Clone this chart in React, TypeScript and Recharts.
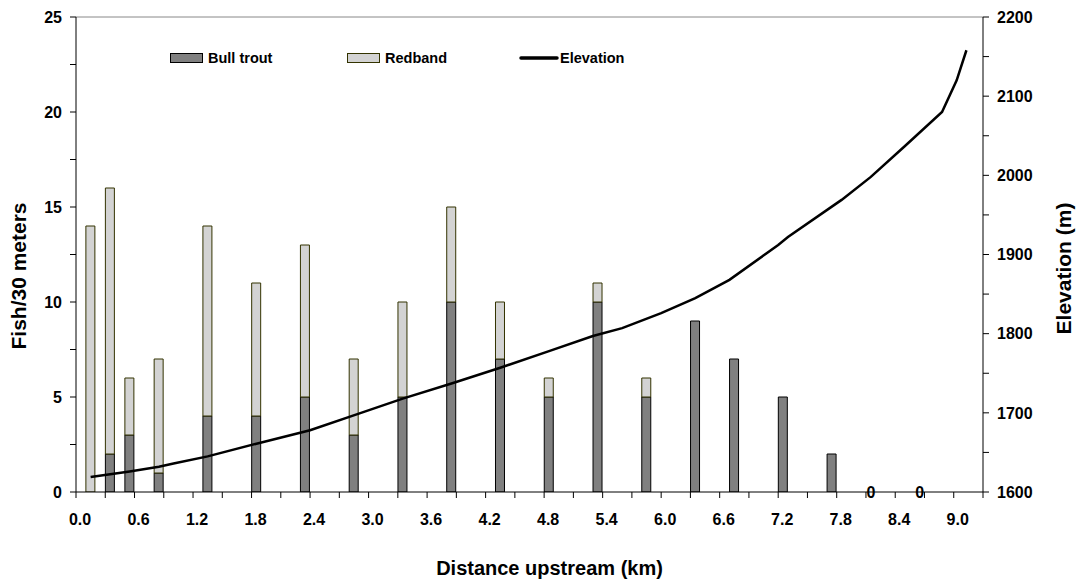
import React from 'react';
import {
  ComposedChart,
  Bar,
  Line,
  XAxis,
  YAxis,
  Legend,
  ReferenceLine,
  Label,
} from 'recharts';

// Sampling sites along the stream (km upstream) and fish counts per 30 m
const siteKm = [0.15, 0.35, 0.55, 0.85, 1.35, 1.85, 2.35, 2.85, 3.35, 3.85, 4.35, 4.85, 5.35, 5.85, 6.35, 6.75, 7.25, 7.75, 8.15, 8.65];
const bullTrout = [0, 2, 3, 1, 4, 4, 5, 3, 5, 10, 7, 5, 10, 5, 9, 7, 5, 2, 0, 0];
const redband = [14, 14, 3, 6, 10, 7, 8, 4, 5, 5, 3, 1, 1, 1, 0, 0, 0, 0, 0, 0];

// Stream profile: distance (km) and elevation (m)
const elevKm = [0.15, 0.55, 0.85, 1.0, 1.35, 1.85, 2.4, 2.9, 3.35, 3.85, 4.35, 4.85, 5.3, 5.6, 6.0, 6.35, 6.7, 7.2, 7.3, 7.85, 8.15, 8.5, 8.88, 9.03, 9.13];
const elevM = [1619, 1626, 1632, 1636, 1645, 1661, 1678, 1699, 1718, 1737, 1757, 1778, 1797, 1807, 1826, 1845, 1868, 1912, 1922, 1969, 1998, 2037, 2080, 2120, 2158];

// Axis ticks (labels shown on every other tick)
const distanceTicks = [0, 0.3, 0.6, 0.9, 1.2, 1.5, 1.8, 2.1, 2.4, 2.7, 3.0, 3.3, 3.6, 3.9, 4.2, 4.5, 4.8, 5.1, 5.4, 5.7, 6.0, 6.3, 6.6, 6.9, 7.2, 7.5, 7.8, 8.1, 8.4, 8.7, 9.0, 9.3];
const fishTicks = [0, 2.5, 5, 7.5, 10, 12.5, 15, 17.5, 20, 22.5, 25];
const elevTicks = [1600, 1650, 1700, 1750, 1800, 1850, 1900, 1950, 2000, 2050, 2100, 2150, 2200];

const seriesNames = ['Bull trout', 'Redband', 'Elevation'];
const xTitle = 'Distance upstream (km)';
const leftTitle = 'Fish/30 meters';
const rightTitle = 'Elevation (m)';

const siteRows = siteKm.map((km, i) => {
  const total = bullTrout[i] + redband[i];
  return {
    km,
    bull: bullTrout[i],
    red: redband[i],
    // sites with no fish get a "0" marker on the axis
    noFish: total === 0 ? 0 : null,
  };
});
const elevRows = elevKm.map((km, i) => ({ km, elev: elevM[i] }));

const FONT = '"Liberation Sans", Arial, Helvetica, sans-serif';
const tickStyle = { fill: '#000', fontSize: 16, fontWeight: 'bold', fontFamily: FONT };

const fmtKm = (v: number) => (Math.round(v * 10) % 6 === 0 ? v.toFixed(1) : '');
const fmtFish = (v: number) => (v % 5 === 0 ? String(v) : '');
const fmtElev = (v: number) => (v % 100 === 0 ? String(v) : '');

const ZeroLabel = (props: any) => {
  const { x, y, value } = props;
  if (value !== 0 || x == null || y == null) return null;
  return (
    <text
      x={Number(x)}
      y={Number(y) + 6}
      textAnchor="middle"
      fontFamily={FONT}
      fontWeight="bold"
      fontSize={16}
      fill="#000"
    >
      {String(value)}
    </text>
  );
};

const XTitle = (props: any) => {
  const vb = props.viewBox;
  return (
    <text
      x={vb.x + vb.width / 2 + 20}
      y={vb.y + 83}
      textAnchor="middle"
      fontFamily={FONT}
      fontWeight="bold"
      fontSize={20}
      fill="#000"
    >
      {xTitle}
    </text>
  );
};

const LeftTitle = (props: any) => {
  const vb = props.viewBox;
  const cx = vb.x + 9.5;
  const cy = vb.y + vb.height / 2 + 21.5;
  return (
    <text
      x={cx}
      y={cy}
      transform={`rotate(-90 ${cx} ${cy})`}
      textAnchor="middle"
      fontFamily={FONT}
      fontWeight="bold"
      fontSize={21}
      fill="#000"
    >
      {leftTitle}
    </text>
  );
};

const RightTitle = (props: any) => {
  const vb = props.viewBox;
  const cx = vb.x + 88;
  const cy = vb.y + vb.height / 2 + 14;
  return (
    <text
      x={cx}
      y={cy}
      transform={`rotate(-90 ${cx} ${cy})`}
      textAnchor="middle"
      fontFamily={FONT}
      fontWeight="bold"
      fontSize={21}
      fill="#000"
    >
      {rightTitle}
    </text>
  );
};

const LegendBox = () => (
  <svg width={1079} height={30} style={{ display: 'block' }}>
    <rect x={170.5} y={10.5} width={32} height={9} fill="#808080" stroke="#000" />
    <text x={208} y={20} fontFamily={FONT} fontWeight="bold" fontSize={14.5} fill="#000">
      {seriesNames[0]}
    </text>
    <rect x={347.5} y={10.5} width={32} height={9} fill="#d3d3d3" stroke="#333300" />
    <text x={385} y={20} fontFamily={FONT} fontWeight="bold" fontSize={14.5} fill="#000">
      {seriesNames[1]}
    </text>
    <line x1={521} y1={15} x2={557} y2={15} stroke="#000" strokeWidth={3.5} strokeLinecap="round" />
    <text x={560} y={20} fontFamily={FONT} fontWeight="bold" fontSize={14.5} fill="#000">
      {seriesNames[2]}
    </text>
  </svg>
);

export default function App() {
  return (
    <div style={{ position: 'absolute', left: 0, top: 0, width: 1079, height: 583, background: '#fff' }}>
      <ComposedChart
        width={1079}
        height={583}
        data={siteRows}
        margin={{ top: 17, right: 36, bottom: 51, left: 16 }}
      >
        <XAxis
          xAxisId="site"
          dataKey="km"
          type="number"
          domain={[0, 9.3]}
          ticks={distanceTicks}
          interval={0}
          tickFormatter={fmtKm}
          tickSize={6}
          tickMargin={16}
          height={40}
          stroke="#000"
          tick={{ ...tickStyle, dx: 4 }}
          allowDataOverflow
        >
          <Label content={XTitle} />
        </XAxis>
        <XAxis
          xAxisId="elev"
          dataKey="km"
          type="number"
          orientation="top"
          height={0}
          domain={[0, 9.3]}
          hide
          allowDataOverflow
        />
        <YAxis
          yAxisId="fish"
          domain={[0, 25]}
          ticks={fishTicks}
          interval={0}
          tickFormatter={fmtFish}
          tickSize={6}
          tickMargin={8}
          width={60}
          stroke="#000"
          tick={tickStyle}
          allowDataOverflow
        >
          <Label content={LeftTitle} />
        </YAxis>
        <YAxis
          yAxisId="elev"
          orientation="right"
          domain={[1600, 2200]}
          ticks={elevTicks}
          interval={0}
          tickFormatter={fmtElev}
          tickSize={6}
          tickMargin={8}
          width={60}
          stroke="#000"
          tick={tickStyle}
          allowDataOverflow
        >
          <Label content={RightTitle} />
        </YAxis>
        <ReferenceLine xAxisId="site" yAxisId="fish" y={25} stroke="#888" strokeWidth={1} />
        <Bar
          xAxisId="site"
          yAxisId="fish"
          dataKey="bull"
          name={seriesNames[0]}
          stackId="fish"
          barSize={9}
          fill="#808080"
          stroke="#000"
          strokeWidth={1}
          isAnimationActive={false}
        />
        <Bar
          xAxisId="site"
          yAxisId="fish"
          dataKey="red"
          name={seriesNames[1]}
          stackId="fish"
          barSize={9}
          fill="#d3d3d3"
          stroke="#333300"
          strokeWidth={1}
          isAnimationActive={false}
        />
        <Line
          xAxisId="site"
          yAxisId="fish"
          dataKey="noFish"
          stroke="none"
          dot={false}
          activeDot={false}
          legendType="none"
          label={ZeroLabel}
          isAnimationActive={false}
        />
        <Line
          xAxisId="elev"
          yAxisId="elev"
          data={elevRows}
          dataKey="elev"
          name={seriesNames[2]}
          type="linear"
          stroke="#000"
          strokeWidth={2.5}
          dot={false}
          activeDot={false}
          isAnimationActive={false}
        />
        <Legend
          layout="horizontal"
          verticalAlign="middle"
          align="center"
          content={LegendBox}
          wrapperStyle={{ position: 'absolute', top: 43, left: 0, width: 1079, height: 30 }}
        />
      </ComposedChart>
    </div>
  );
}
